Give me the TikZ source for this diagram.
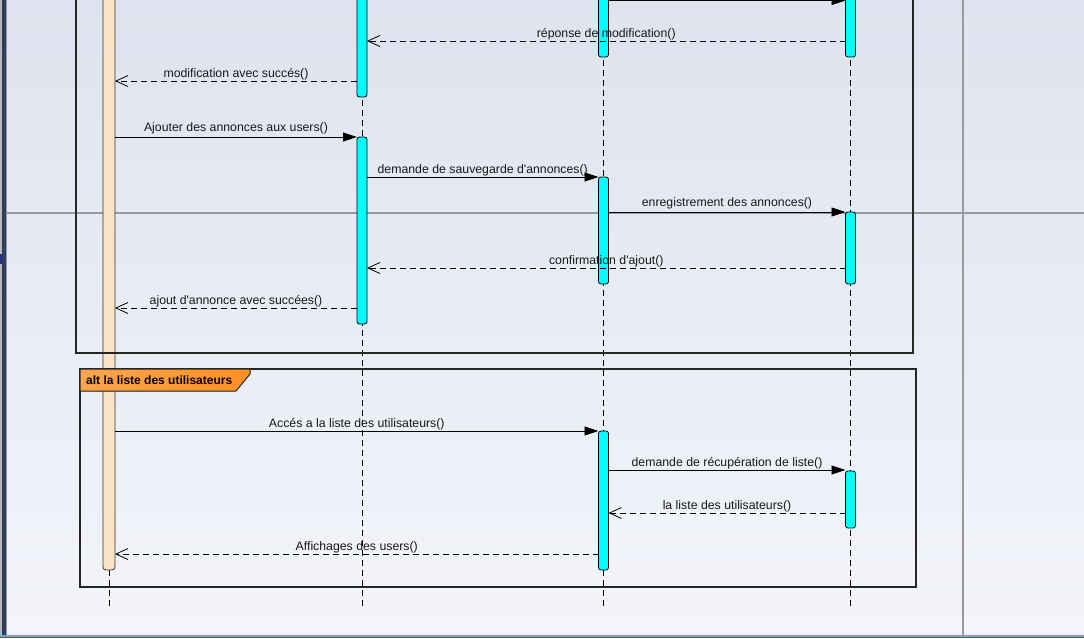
\documentclass[tikz,border=0pt]{standalone}
\usepackage{fontspec}
\setmainfont{Liberation Sans}[Ligatures=TeXOff]
\usetikzlibrary{arrows.meta}
\definecolor{bgtop}{HTML}{DEE3EF}
\definecolor{bgbot}{HTML}{F3F5FA}
\definecolor{navy}{HTML}{2D3E5E}
\definecolor{gridgrey}{HTML}{9A9A9A}
\definecolor{actcyan}{HTML}{00FFFF}
\definecolor{ctrlpeach}{HTML}{FAE3C6}
\definecolor{altorangeL}{HTML}{FBA54F}
\definecolor{altorangeR}{HTML}{FF9023}
\definecolor{edgeblue}{HTML}{1E6FB5}
\begin{document}
\begin{tikzpicture}[x=1pt,y=-1pt,
  actbar/.style={draw=black, line width=0.8pt, fill=actcyan, rounded corners=2.5pt,
    minimum width=10pt, inner sep=0pt, outer sep=0pt},
  ctrlbar/.style={draw=black!80, line width=0.8pt, fill=ctrlpeach, rounded corners=3pt,
    minimum width=12pt, inner sep=0pt, outer sep=0pt},
  lifeline/.style={line width=0.8pt, dash pattern=on 6pt off 4pt},
  msg/.style={line width=0.9pt, -{Triangle[length=14pt,width=9pt]}},
  ret/.style={line width=0.8pt, dash pattern=on 6pt off 4pt, -{Straight Barb[length=12pt,width=11pt,line width=0.8pt]}},
  lbl/.style={font=\fontsize{12.3}{14}\selectfont, text=black!90, inner sep=1pt, above},
  frame/.style={draw=black!85, line width=1.2pt},
  grid/.style={draw=gridgrey, line width=1.8pt}
]
\useasboundingbox (0,0) rectangle (1084,638);
\clip (0,0) rectangle (1084,638);
% background
\shade[top color=bgtop, bottom color=bgbot] (0,0) rectangle (1084,636);
\fill[navy] (1.5,0) rectangle (6,636);
\fill[gridgrey!70] (0,0) rectangle (1.5,636);
\fill[navy!80!blue] (0,254) rectangle (1.5,264);
\draw[gridgrey, line width=1pt] (6.5,0) -- (6.5,636);
\fill[gridgrey] (0,635) rectangle (1084,637);
\fill[edgeblue] (0,637) rectangle (1084,638);
% grid lines
\draw[grid] (6,213) -- (1084,213);
\draw[grid] (963,0) -- (963,636);

% lifelines
\coordinate (l1top) at (109,-10); \coordinate (l1bot) at (109,606);
\coordinate (l2top) at (362,-10); \coordinate (l2bot) at (362,606);
\coordinate (l3top) at (603.5,-10); \coordinate (l3bot) at (603.5,606);
\coordinate (l4top) at (850.5,-10); \coordinate (l4bot) at (850.5,606);
\draw[lifeline] (l1top) -- (l1bot);
\draw[lifeline] (l2top) -- (l2bot);
\draw[lifeline] (l3top) -- (l3bot);
\draw[lifeline] (l4top) -- (l4bot);

% activation bars
\node[ctrlbar, minimum height=580pt] (o1) at (109,280) {};
\node[actbar, minimum height=107pt] (c2a) at (362,43.5) {};
\node[actbar, minimum height=187pt] (c2b) at (362,230.5) {};
\node[actbar, minimum height=67pt] (c3a) at (603.5,23.5) {};
\node[actbar, minimum height=107pt] (c3b) at (603.5,230.5) {};
\node[actbar, minimum height=139pt] (c3c) at (603.5,500.5) {};
\node[actbar, minimum height=67pt] (c4a) at (850.5,23.5) {};
\node[actbar, minimum height=72pt] (c4b) at (850.5,248) {};
\node[actbar, minimum height=57pt] (c4c) at (850.5,499.5) {};

% frames
\draw[frame] (76,-20) rectangle (913,353);
\draw[frame] (80,369) rectangle (916,587);
\filldraw[left color=altorangeL, right color=altorangeR, draw=black!85, line width=1pt]
  (80,369) -- (250,369) -- (250,374) -- (236,391) -- (80,391) -- cycle;
\node[font=\bfseries\fontsize{12}{14}\selectfont, anchor=west, inner sep=0pt] (alttext) at (86,380.5) {alt la liste des utilisateurs};

% messages
\draw[msg] (c3a.east |- 0,0.5) -- (c4a.west |- 0,0.5);
\draw[ret] (c4a.west |- 0,41) -- node[lbl] {réponse de modification()} (c2a.east |- 0,41);
\draw[ret] (c2a.west |- 0,81) -- node[lbl] {modification avec succés()} (o1.east |- 0,81);
\draw[msg] (o1.east |- 0,137) -- node[lbl, yshift=2pt] {Ajouter des annonces aux users()} (c2b.west |- 0,137);
\draw[msg] (c2b.east |- 0,177) -- node[lbl] {demande de sauvegarde d'annonces()} (c3b.west |- 0,177);
\draw[msg] (c3b.east |- 0,212) -- node[lbl, yshift=2pt] {enregistrement des annonces()} (c4b.west |- 0,212);
\draw[ret] (c4b.west |- 0,268) -- node[lbl] {confirmation d'ajout()} (c2b.east |- 0,268);
\draw[ret] (c2b.west |- 0,308) -- node[lbl] {ajout d'annonce avec succées()} (o1.east |- 0,308);
\draw[msg] (o1.east |- 0,431) -- node[lbl] {Accés a la liste des utilisateurs()} (c3c.west |- 0,431);
\draw[msg] (c3c.east |- 0,470) -- node[lbl] {demande de récupération de liste()} (c4c.west |- 0,470);
\draw[ret] (c4c.west |- 0,513) -- node[lbl] {la liste des utilisateurs()} (c3c.east |- 0,513);
\draw[ret] (c3c.west |- 0,554) -- node[lbl] {Affichages des users()} (o1.east |- 0,554);
\end{tikzpicture}
\end{document}
